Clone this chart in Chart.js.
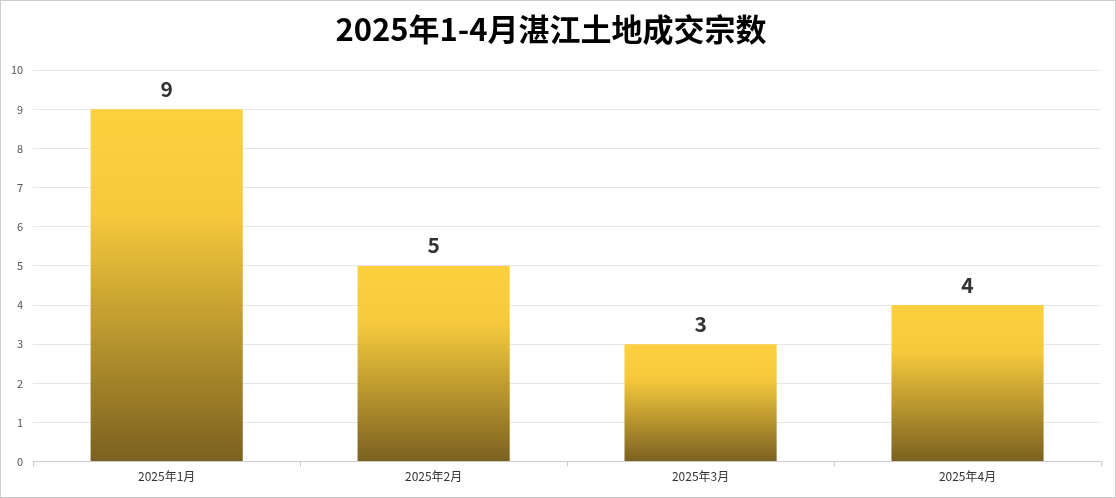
<!DOCTYPE html>
<html><head><meta charset="utf-8">
<script src="https://cdn.jsdelivr.net/npm/chart.js@4"></script>
<style>html,body{margin:0;padding:0;background:#fff}#w{width:1114px;height:496px;border:1px solid #ccc;position:relative}</style>
</head><body><div id="w"><canvas id="c"></canvas></div>
<script>
const categories=["2025年1月","2025年2月","2025年3月","2025年4月"];
const values=[9,5,3,4];
const yTicks=[0,1,2,3,4,5,6,7,8,9,10];
const font='"Microsoft YaHei","Noto Sans CJK SC",sans-serif';
function grad(ctx){
  const ch=ctx.chart;const ys=ch.scales&&ch.scales.y;
  if(!ys||!ch.chartArea||ctx.raw===undefined)return '#FDD03F';
  const top=ys.getPixelForValue(ctx.raw),bot=ys.getPixelForValue(0);
  if(!isFinite(top)||!isFinite(bot)||bot<=top)return '#FDD03F';
  const g=ch.ctx.createLinearGradient(0,top,0,bot);
  g.addColorStop(0,'#FDD03F');g.addColorStop(0.3,'#F5C93C');g.addColorStop(1,'#7B6120');
  return g;
}
const labelPlugin={id:'lbl',afterDatasetsDraw(chart){
  const c=chart.ctx;const meta=chart.getDatasetMeta(0);
  c.save();c.font='bold 21px '+font;c.fillStyle='#333';c.textAlign='center';c.textBaseline='bottom';
  meta.data.forEach((b,i)=>c.fillText(values[i],b.x,b.y-10));c.restore();}};
new Chart(document.getElementById('c'),{type:'bar',
data:{labels:categories,datasets:[{data:values,backgroundColor:grad,categoryPercentage:1,barPercentage:0.57}]},
options:{responsive:true,maintainAspectRatio:false,animation:false,
layout:{padding:{left:0,right:14,top:0,bottom:10}},
plugins:{legend:{display:false},tooltip:{enabled:false},
title:{display:true,text:'2025年1-4月湛江土地成交宗数',color:'#000',font:{family:font,size:31,weight:'bold'},padding:{top:10,bottom:22}}},
scales:{x:{grid:{display:true,drawOnChartArea:false,color:'#ccc',tickLength:5},border:{color:'#ccc'},ticks:{color:'#333',font:{family:font,size:12}}},
y:{min:0,max:10,afterBuildTicks(a){a.ticks=yTicks.map(v=>({value:v}));},grid:{color:'#e6e6e6',drawTicks:false},border:{display:false},ticks:{color:'#555',padding:10,font:{family:font,size:11}}}}},
plugins:[labelPlugin]});
</script></body></html>
